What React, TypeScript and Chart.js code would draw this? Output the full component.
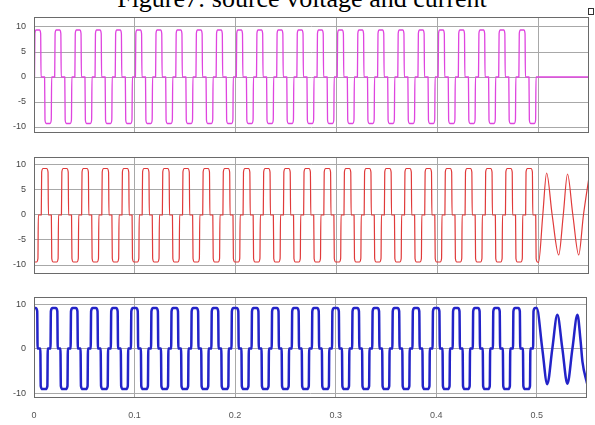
import React, { useEffect, useRef } from "react";
import { Chart, registerables } from "chart.js";

Chart.register(...registerables);

// Time axis
const PERIOD = 0.02; // 50 Hz fundamental
const CYCLES = 25; // switching cycles up to t = 0.5 s
const T_MAX = 0.55;
const xTicks = [0, 0.1, 0.2, 0.3, 0.4, 0.5];
const xTickLabels = ["0", "0.1", "0.2", "0.3", "0.4", "0.5"];

// Y ticks
const yTicksFine = [-10, -5, 0, 5, 10];
const yTicksCoarse = [-10, 0, 10];

// Source voltage: one cycle (phase in s, level), then the tail after 0.5 s
const voltagePhase = [0, 0.0005, 0.0009, 0.0021, 0.0054, 0.0066, 0.007, 0.0105, 0.0109, 0.0121, 0.0159, 0.0171, 0.0175];
const voltageLevel = [0, 0, 8.7, 9.4, 9.4, 8.7, 0, 0, -8.6, -9.3, -9.3, -8.6, 0];
const voltageTailT = [0.5, 0.55];
const voltageTailV = [0, 0];

// Load voltage: one cycle, then the oscillation after 0.5 s
const loadPhase = [0, 0.0025, 0.0039, 0.0043, 0.0072, 0.0076, 0.009, 0.0125, 0.0139, 0.0143, 0.0172, 0.0176, 0.019];
const loadLevel = [-9.4, -9.4, -8.7, 0, 0, 8.6, 9.3, 9.3, 8.6, 0, 0, -8.7, -9.4];
const loadTailT = [0.5, 0.5042, 0.508, 0.5135, 0.52, 0.5245, 0.5287, 0.534, 0.5398, 0.5445, 0.55];
const loadTailV = [-9.5, 0, 8.4, 0, -8.0, 0, 8.2, 0, -8.0, 0, 7.6];

// Source current: one cycle, then the response after 0.5 s
const currentPhase = [0, 0.0016, 0.0032, 0.0036, 0.0063, 0.0067, 0.0083, 0.0117, 0.0133, 0.0137, 0.0164, 0.0168, 0.0184];
const currentLevel = [9.1, 9.1, 8.4, 0, 0, -8.4, -9.1, -9.1, -8.4, 0, 0, 8.4, 9.1];
const currentTailT = [0.5, 0.5055, 0.5105, 0.5155, 0.5205, 0.5255, 0.5305, 0.5355, 0.5405, 0.5435, 0.5455, 0.55];
const currentTailV = [9.1, 0, -8.0, 0, 7.6, 0, -7.9, 0, 7.6, 2.0, -3.0, -7.8];

type Pt = { x: number; y: number };

function buildSeries(phase: number[], level: number[], tailT: number[], tailV: number[]): Pt[] {
  const pts: Pt[] = [];
  for (let k = 0; k < CYCLES; k++) {
    for (let i = 0; i < phase.length; i++) {
      pts.push({ x: k * PERIOD + phase[i], y: level[i] });
    }
  }
  for (let i = 0; i < tailT.length; i++) pts.push({ x: tailT[i], y: tailV[i] });
  return pts;
}

const FONT = "'Liberation Sans', Arial, sans-serif";

const framePlugin = {
  id: "frame",
  afterDraw(chart: any) {
    const { ctx, chartArea: a } = chart;
    ctx.save();
    ctx.strokeStyle = "#6a6a6a";
    ctx.lineWidth = 1;
    ctx.strokeRect(Math.round(a.left) + 0.5, Math.round(a.top) + 0.5, Math.round(a.right - a.left) - 1, Math.round(a.bottom - a.top) - 1);
    ctx.restore();
  },
};

type PanelOpts = {
  data: Pt[];
  color: string;
  width: number;
  yMin: number;
  yMax: number;
  yTicks: number[];
  showX: boolean;
  padding: { top: number; bottom: number; left: number; right: number };
};

function makeConfig(o: PanelOpts): any {
  return {
    type: "line",
    data: {
      datasets: [
        {
          data: o.data,
          borderColor: o.color,
          borderWidth: o.width,
          borderJoinStyle: "round",
          borderCapStyle: "round",
          pointRadius: 0,
          fill: false,
          cubicInterpolationMode: "monotone",
        },
      ],
    },
    options: {
      responsive: false,
      animation: false,
      events: [],
      layout: { padding: o.padding },
      plugins: { legend: { display: false }, tooltip: { enabled: false }, title: { display: false } },
      scales: {
        x: {
          type: "linear",
          min: 0,
          max: T_MAX,
          afterBuildTicks: (s: any) => {
            s.ticks = xTicks.map((v) => ({ value: v }));
          },
          afterFit: (s: any) => {
            s.height = o.showX ? 27 : 0;
            s.paddingLeft = 0;
            s.paddingRight = 0;
          },
          grid: { color: "#a8a8a8", lineWidth: 1, drawTicks: false },
          border: { display: false },
          ticks: {
            display: o.showX,
            padding: 12,
            color: "#555",
            font: { family: FONT, size: 9 },
            maxRotation: 0,
            callback: (v: number) => {
              const i = xTicks.findIndex((t) => Math.abs(t - v) < 1e-9);
              return i >= 0 ? xTickLabels[i] : "";
            },
          },
        },
        y: {
          min: o.yMin,
          max: o.yMax,
          afterBuildTicks: (s: any) => {
            s.ticks = o.yTicks.map((v) => ({ value: v }));
          },
          afterFit: (s: any) => {
            s.width = 34;
            s.paddingTop = 0;
            s.paddingBottom = 0;
          },
          grid: { color: "#a8a8a8", lineWidth: 1, drawTicks: false },
          border: { display: false },
          ticks: {
            padding: 8,
            color: "#444",
            font: { family: FONT, size: 9 },
          },
        },
      },
    },
    plugins: [framePlugin],
  };
}

const panels: { top: number; height: number; opts: PanelOpts }[] = [
  {
    top: 12,
    height: 126,
    opts: {
      data: buildSeries(voltagePhase, voltageLevel, voltageTailT, voltageTailV),
      color: "#df45df",
      width: 1.3,
      yMin: -11.2,
      yMax: 12,
      yTicks: yTicksFine,
      showX: false,
      padding: { top: 5, bottom: 5, left: 0, right: 6 },
    },
  },
  {
    top: 152,
    height: 127,
    opts: {
      data: buildSeries(loadPhase, loadLevel, loadTailT, loadTailV),
      color: "#e03a3a",
      width: 1.2,
      yMin: -11.8,
      yMax: 11.6,
      yTicks: yTicksFine,
      showX: false,
      padding: { top: 5, bottom: 5, left: 0, right: 6 },
    },
  },
  {
    top: 292,
    height: 133,
    opts: {
      data: buildSeries(currentPhase, currentLevel, currentTailT, currentTailV),
      color: "#2323c8",
      width: 2.5,
      yMin: -11.1,
      yMax: 11.6,
      yTicks: yTicksCoarse,
      showX: true,
      padding: { top: 5, bottom: 0, left: 0, right: 8 },
    },
  },
];

export default function App() {
  const refs = [useRef<HTMLCanvasElement>(null), useRef<HTMLCanvasElement>(null), useRef<HTMLCanvasElement>(null)];

  useEffect(() => {
    const charts = panels.map((p, i) => new Chart(refs[i].current as HTMLCanvasElement, makeConfig(p.opts)));
    return () => charts.forEach((c) => c.destroy());
  }, []);

  return (
    <div style={{ position: "fixed", left: 0, top: 0, width: 595, height: 425, background: "#fff", overflow: "hidden" }}>
      <div
        style={{
          position: "absolute",
          left: 0,
          width: 604,
          top: -14,
          textAlign: "center",
          fontFamily: "'Liberation Serif', 'Times New Roman', serif",
          fontSize: 26,
          lineHeight: "26px",
          color: "#000",
          whiteSpace: "nowrap",
        }}
      >
        Figure7: source voltage and current
      </div>
      <div style={{ position: "absolute", left: 588, top: 8, width: 4, height: 5, border: "1px solid #333" }} />
      {panels.map((p, i) => (
        <canvas key={i} ref={refs[i]} width={595} height={p.height} style={{ position: "absolute", left: 0, top: p.top, display: "block" }} />
      ))}
    </div>
  );
}
